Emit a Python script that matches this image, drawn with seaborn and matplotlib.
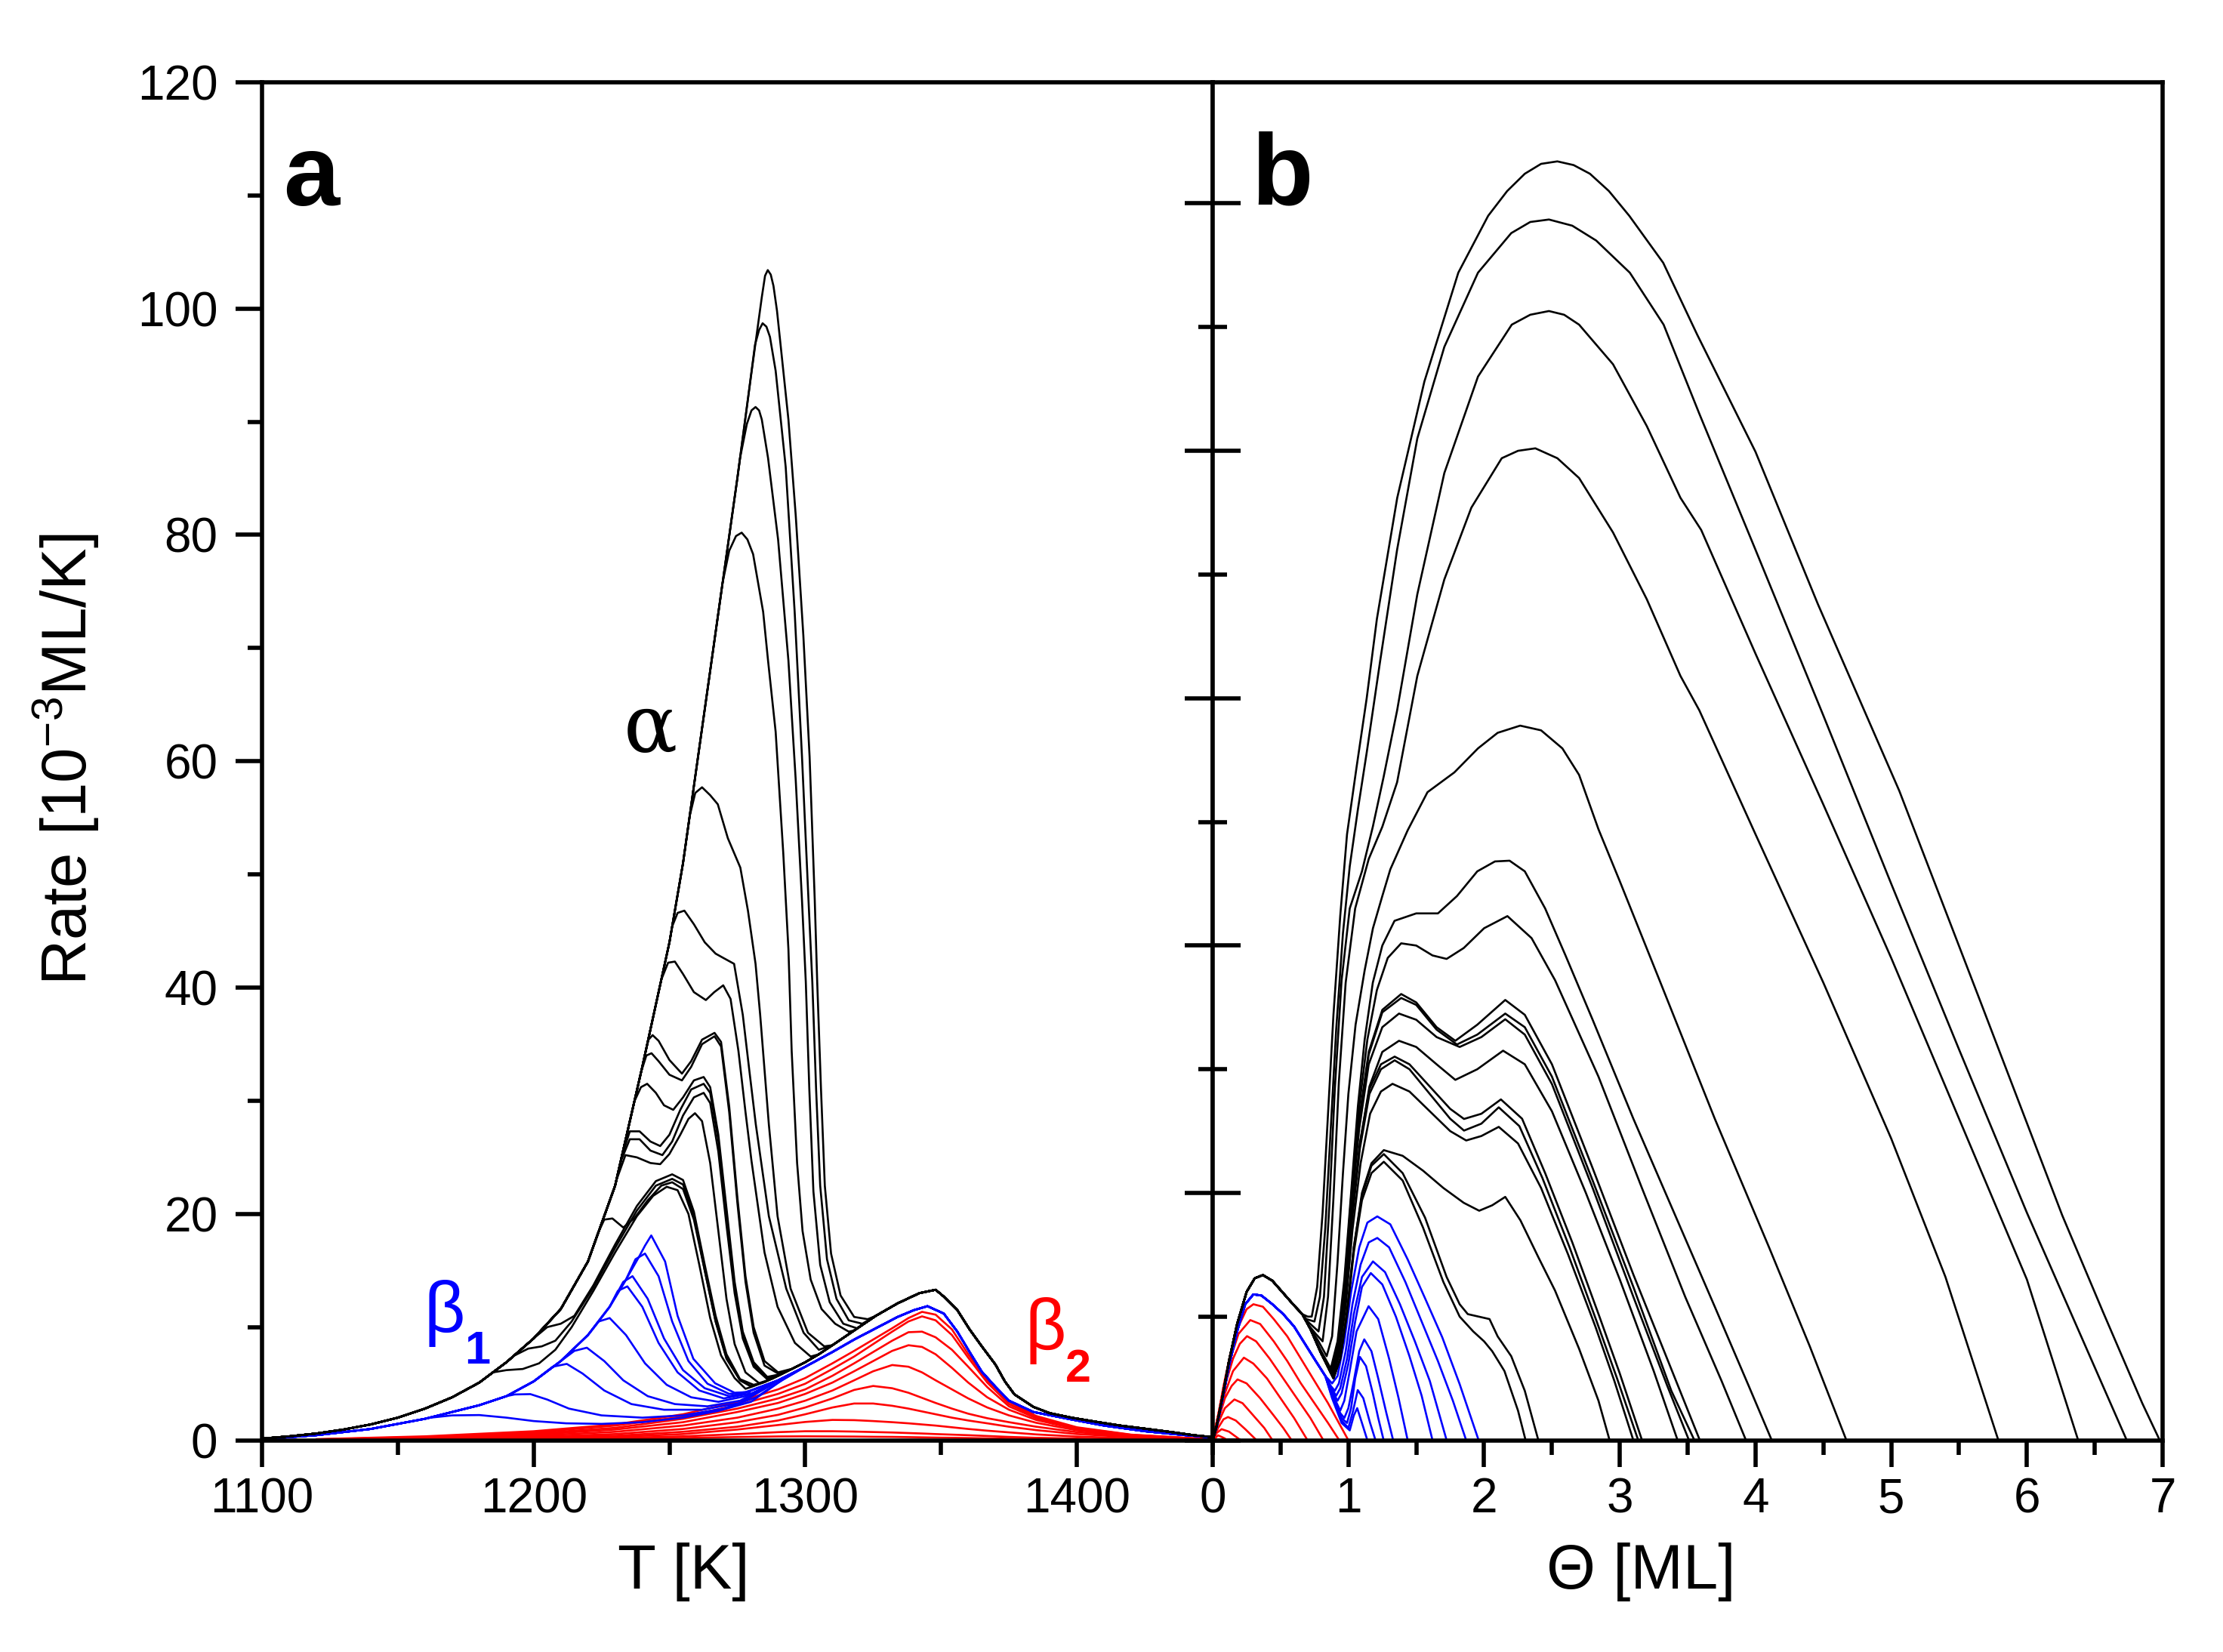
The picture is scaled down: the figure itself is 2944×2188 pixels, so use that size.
import matplotlib
matplotlib.use("Agg")
import matplotlib.pyplot as plt
from matplotlib.ticker import MultipleLocator, NullFormatter
import numpy as np
import pandas as pd
import seaborn as sns

# ---------------- Panel a : rate vs temperature ----------------
# common leading edge of the alpha (multilayer) peak
A_LEAD_T = [1100, 1110, 1120, 1130, 1140, 1150, 1160, 1170, 1180, 1190, 1200, 1210, 1220, 1230,
            1240, 1250, 1255, 1260, 1265, 1270, 1275, 1280, 1284]
A_LEAD_R = [0.15, 0.35, 0.6, 0.95, 1.4, 2.0, 2.8, 3.8, 5.1, 6.9, 9.0, 11.6, 15.8, 22.5,
            33.0, 44.0, 51.0, 59.5, 68.0, 76.5, 85.0, 94.0, 101.0]
# common beta2 trace of the black curves
A_B2_T = [1275, 1280, 1285, 1290, 1295, 1300, 1305, 1310, 1318, 1326, 1334, 1342, 1348, 1351,
          1356, 1360.5, 1365, 1370, 1373.5, 1377, 1384, 1390, 1398, 1408, 1416, 1426, 1435, 1443, 1450]
A_B2_R = [4.3, 4.7, 5.15, 5.7, 6.3, 6.9, 7.6, 8.4, 9.7, 11.0, 12.1, 13.0, 13.3, 12.7,
          11.5, 9.8, 8.3, 6.7, 5.2, 4.06, 2.95, 2.4, 2.0, 1.6, 1.3, 1.0, 0.72, 0.45, 0.28]
# blue (beta1) leading edge and blue beta2 trace
A_BL_LEAD_T = [1100, 1120, 1140, 1160, 1170, 1180, 1190, 1200, 1210, 1220, 1228, 1234, 1239, 1243]
A_BL_LEAD_R = [0.1, 0.45, 1.0, 1.9, 2.5, 3.1, 3.9, 5.2, 7.0, 9.3, 11.8, 14.2, 16.3, 18.0]
A_BL_B2_T = [1270, 1280, 1290, 1300, 1310, 1318, 1326, 1334, 1340, 1345, 1351, 1356, 1360.5,
             1365, 1370, 1375, 1384, 1398, 1410, 1425, 1440, 1450]
A_BL_B2_R = [3.7, 4.4, 5.3, 6.5, 7.8, 8.9, 9.9, 10.9, 11.5, 11.85, 11.2, 9.6, 7.8,
             6.06, 4.73, 3.5, 2.5, 1.84, 1.3, 0.8, 0.45, 0.25]

# black curves: own segment (T list, rate list)
K1 = ([1185, 1190, 1196, 1202, 1208, 1214, 1222, 1230, 1238, 1244, 1249, 1253, 1257, 1261, 1265, 1269, 1274, 1278],
      [6.0, 6.2, 6.3, 6.8, 8.0, 10.0, 13.2, 16.6, 19.8, 21.6, 22.4, 22.1, 20.0, 15.5, 10.8, 7.5, 5.5, 4.55])
K2 = ([1193, 1198, 1203, 1208, 1214, 1222, 1230, 1238, 1245, 1251, 1255, 1259, 1263, 1267, 1271, 1276, 1280],
      [7.5, 8.1, 8.3, 8.8, 10.5, 13.5, 17.0, 20.3, 22.5, 23.1, 22.6, 19.8, 15.0, 10.5, 7.3, 5.3, 4.8])
K3 = ([1201, 1205, 1210, 1215, 1222, 1230, 1238, 1245, 1251, 1255, 1259, 1263, 1267, 1271, 1276, 1281],
      [9.2, 10.0, 10.3, 11.0, 13.7, 17.3, 20.7, 22.9, 23.5, 23.0, 20.2, 15.5, 11.0, 7.6, 5.4, 4.9])
K4 = ([1223.5, 1226, 1229, 1233, 1237, 1242, 1247, 1251, 1255, 1259, 1263, 1267, 1271, 1276, 1280],
      [18.2, 19.5, 19.6, 18.8, 19.6, 21.2, 22.5, 22.8, 22.2, 19.5, 15.0, 10.5, 7.2, 5.3, 4.75])
K5 = ([1230.5, 1233.8, 1238, 1243, 1246.6, 1250, 1254, 1257, 1259.4, 1262, 1265, 1268, 1271, 1274, 1278, 1283, 1288],
      [23.0, 25.2, 25.0, 24.5, 24.4, 25.3, 27.0, 28.4, 28.9, 28.2, 24.5, 18.5, 12.5, 8.5, 6.0, 5.05, 5.45])
K6 = ([1232, 1235.4, 1239, 1243, 1247.4, 1251, 1255, 1259, 1262.6, 1265, 1268, 1271, 1274, 1277, 1281, 1286, 1290],
      [24.6, 26.6, 26.6, 25.6, 25.2, 26.4, 28.7, 30.3, 30.7, 29.8, 25.5, 19.0, 13.0, 9.0, 6.5, 5.4, 5.7])
K7 = ([1232.5, 1235.4, 1239, 1243, 1246.6, 1250, 1254, 1258, 1262.6, 1265, 1268, 1271, 1274, 1277, 1281, 1286, 1290],
      [25.1, 27.3, 27.3, 26.4, 26.0, 27.0, 29.2, 31.0, 31.5, 30.7, 26.5, 20.0, 13.5, 9.3, 6.7, 5.5, 5.75])
K8 = ([1237, 1239.5, 1241.8, 1245, 1248, 1251.4, 1255, 1259, 1262.6, 1265, 1268, 1271, 1274, 1277, 1281, 1286, 1290],
      [29.9, 31.2, 31.5, 30.7, 29.6, 29.2, 30.3, 31.8, 32.1, 31.2, 27.0, 20.5, 14.0, 9.6, 6.9, 5.6, 5.8])
K9 = ([1239.5, 1241.5, 1243.4, 1246, 1250, 1254.6, 1258, 1262, 1266.6, 1269, 1272, 1275, 1278, 1281, 1285, 1290, 1294],
      [32.5, 34.0, 34.2, 33.5, 32.3, 31.8, 33.0, 35.0, 35.7, 34.8, 29.0, 21.0, 14.0, 9.5, 6.6, 5.9, 6.2])
K10 = ([1241, 1242.3, 1243.8, 1246, 1250, 1254.6, 1258, 1262, 1266.6, 1269, 1272, 1275, 1278, 1281, 1285, 1290, 1294],
       [34.1, 35.4, 35.8, 35.3, 33.6, 32.4, 33.5, 35.4, 36.0, 35.2, 29.5, 21.5, 14.5, 10.0, 7.0, 6.0, 6.25])
K11 = ([1247, 1249.5, 1252, 1255, 1259, 1263.4, 1266.5, 1269.8, 1272.5, 1275.4, 1278, 1280.2, 1285, 1289.8, 1296.2, 1302],
       [40.7, 42.2, 42.3, 41.2, 39.6, 38.9, 39.6, 40.2, 39.0, 34.4, 29.0, 24.7, 16.6, 11.8, 8.6, 7.4])
K12 = ([1251, 1253, 1255.5, 1259, 1263, 1267, 1270, 1273.8, 1277, 1279.5, 1281.8, 1286.6, 1293, 1299.4, 1305],
       [45.4, 46.6, 46.8, 45.6, 44.0, 43.0, 42.6, 42.1, 37.6, 32.5, 27.9, 19.8, 13.4, 9.5, 8.0])
K13 = ([1257.5, 1259.5, 1262, 1265, 1267.8, 1271.5, 1276.1, 1278.9, 1281.7, 1283.4, 1286.6, 1289.8, 1294.6, 1301, 1307],
       [55.2, 57.2, 57.7, 57.0, 56.2, 53.2, 50.6, 46.8, 42.1, 37.6, 27.9, 19.8, 13.4, 9.5, 8.3])
K14 = ([1269.5, 1272, 1274.5, 1276.6, 1278.7, 1280.8, 1284.5, 1286.3, 1289.1, 1291.9, 1293.8, 1295, 1297, 1299, 1302,
        1306, 1311, 1316],
       [75.7, 78.6, 79.9, 80.2, 79.6, 78.3, 73.2, 68.9, 62.6, 51.9, 43.4, 34.4, 24.5, 18.5, 14.2, 11.6, 10.3, 9.6])
K15 = ([1276, 1278.5, 1280.2, 1281.7, 1283, 1284, 1286.3, 1290, 1293.8, 1296.5, 1298.8, 1300.2, 1301.5, 1303, 1305.5,
        1309, 1314, 1319],
       [86.8, 89.8, 91.0, 91.3, 91.0, 90.2, 86.8, 79.6, 68.9, 58.3, 47.7, 40.5, 31.0, 22.0, 15.5, 12.2, 10.3, 9.9])
K16 = ([1279, 1281.5, 1283, 1284.3, 1285.7, 1287, 1289.1, 1292.8, 1296.1, 1298.8, 1301.2, 1302.6, 1304, 1305.5, 1308,
        1311.5, 1316, 1321],
       [92.2, 96.8, 98.1, 98.7, 98.4, 97.5, 94.5, 86.0, 73.2, 60.4, 47.7, 40.5, 31.0, 22.5, 16.0, 12.5, 10.6, 10.3])
K17 = ([1285.2, 1286.2, 1287.3, 1288.3, 1289.6, 1291, 1293.8, 1296.5, 1299.3, 1301.6, 1303.5, 1304.4, 1305.8, 1307.2,
        1309.5, 1313, 1318, 1323],
       [102.9, 103.4, 103.0, 102.0, 99.8, 96.6, 90.2, 81.7, 71.1, 60.4, 47.7, 40.5, 31.0, 22.5, 16.5, 12.8, 10.9, 10.7])
A_BLACK = [K1, K2, K3, K4, K5, K6, K7, K8, K9, K10, K11, K12, K13, K14, K15, K16, K17]

# blue curves: own segment
BA1 = ([1162, 1170, 1180, 1190, 1200, 1212, 1225, 1240, 1255, 1268, 1280, 1292],
       [2.0, 2.2, 2.23, 2.0, 1.7, 1.5, 1.45, 1.6, 2.0, 2.6, 3.4, 5.4])
BA2 = ([1193, 1198.8, 1205, 1213, 1225, 1240, 1255, 1270, 1282, 1290],
       [4.05, 4.08, 3.6, 2.8, 2.2, 2.0, 2.2, 2.8, 3.8, 5.1])
BA3 = ([1207, 1212.2, 1218, 1226, 1236, 1248, 1262, 1276, 1287],
       [6.5, 6.75, 5.9, 4.4, 3.2, 2.7, 2.7, 3.3, 4.8])
BA4 = ([1215, 1219.6, 1226, 1233, 1242, 1252, 1264, 1276, 1286],
       [7.9, 8.18, 7.0, 5.3, 3.9, 3.2, 3.0, 3.5, 4.7])
BA5 = ([1224, 1228, 1234, 1241, 1249, 1258, 1268, 1278, 1286],
       [10.5, 10.8, 9.3, 6.8, 4.9, 3.8, 3.4, 3.9, 4.8])
BA6 = ([1231, 1234.5, 1240, 1246, 1253, 1261, 1270, 1279],
       [13.2, 13.6, 11.8, 8.6, 6.0, 4.4, 3.7, 4.1])
BA7 = ([1233, 1236.4, 1242, 1248, 1255, 1263, 1272, 1278],
       [14.0, 14.5, 12.5, 9.0, 6.2, 4.6, 3.9, 4.2])
BA8 = ([1237.5, 1241, 1246, 1251, 1257, 1264, 1272, 1278],
       [16.0, 16.5, 14.5, 10.5, 7.0, 5.0, 4.1, 4.25])
BA9 = ([1241, 1243.3, 1248.4, 1253, 1258.8, 1266.8, 1274, 1278],
       [17.2, 18.1, 15.8, 11.0, 7.2, 5.04, 4.2, 4.25])
A_BLUE = [BA1, BA2, BA3, BA4, BA5, BA6, BA7, BA8, BA9]

# red curves (beta2 only), common temperature grid
A_RED_T = [1120, 1160, 1200, 1230, 1255, 1275, 1290, 1300, 1310, 1318, 1325, 1332, 1338, 1343,
           1348, 1354, 1360, 1367, 1375, 1385, 1400, 1420, 1450]
RA1 = [0.1, 0.35, 0.8, 1.4, 2.3, 3.4, 4.5, 5.5, 6.8, 7.9, 8.9, 9.9, 10.8, 11.35, 11.1, 9.8, 7.6, 5.3, 3.4, 2.15, 1.15, 0.5, 0.08]
RA2 = [0.08, 0.3, 0.7, 1.3, 2.1, 3.1, 4.1, 5.0, 6.3, 7.4, 8.5, 9.6, 10.5, 10.95, 10.6, 9.3, 7.3, 5.1, 3.2, 2.05, 1.1, 0.48, 0.07]
RA3 = [0.07, 0.25, 0.6, 1.1, 1.9, 2.8, 3.7, 4.5, 5.7, 6.8, 7.8, 8.8, 9.55, 9.6, 9.1, 8.0, 6.5, 4.7, 3.0, 1.95, 1.05, 0.45, 0.07]
RA4 = [0.05, 0.2, 0.5, 0.95, 1.6, 2.5, 3.3, 4.1, 5.1, 6.1, 7.0, 7.9, 8.4, 8.25, 7.6, 6.4, 5.1, 3.8, 2.7, 1.8, 0.98, 0.42, 0.06]
RA5 = [0.04, 0.15, 0.4, 0.75, 1.3, 2.0, 2.8, 3.5, 4.4, 5.3, 6.1, 6.65, 6.5, 6.0, 5.3, 4.5, 3.7, 2.9, 2.2, 1.55, 0.88, 0.38, 0.05]
RA6 = [0.03, 0.1, 0.3, 0.55, 1.0, 1.6, 2.25, 2.9, 3.7, 4.45, 4.8, 4.6, 4.2, 3.75, 3.3, 2.8, 2.35, 1.95, 1.6, 1.2, 0.72, 0.35, 0.05]
RA7 = [0.02, 0.08, 0.22, 0.4, 0.75, 1.2, 1.75, 2.3, 2.9, 3.25, 3.25, 3.05, 2.8, 2.55, 2.3, 2.0, 1.75, 1.5, 1.2, 0.9, 0.55, 0.28, 0.04]
RA8 = [0.01, 0.05, 0.15, 0.3, 0.55, 0.95, 1.35, 1.62, 1.8, 1.78, 1.7, 1.6, 1.5, 1.4, 1.3, 1.15, 1.0, 0.85, 0.7, 0.52, 0.33, 0.17, 0.03]
RA9 = [0.01, 0.03, 0.1, 0.2, 0.35, 0.55, 0.72, 0.8, 0.8, 0.77, 0.73, 0.69, 0.64, 0.6, 0.55, 0.5, 0.45, 0.38, 0.3, 0.22, 0.15, 0.08, 0.02]
RA10 = [0.0, 0.02, 0.06, 0.12, 0.2, 0.29, 0.34, 0.35, 0.34, 0.33, 0.31, 0.3, 0.28, 0.26, 0.24, 0.22, 0.2, 0.17, 0.14, 0.1, 0.07, 0.04, 0.01]
A_RED = [RA1, RA2, RA3, RA4, RA5, RA6, RA7, RA8, RA9, RA10]

# ---------------- Panel b : rate vs coverage ----------------
B_BK_HUMP_X = [0.0, 0.03, 0.07, 0.12, 0.18, 0.25, 0.31, 0.37, 0.44, 0.52, 0.60, 0.66]
B_BK_HUMP_Y = [0.0, 0.06, 0.17, 0.32, 0.47, 0.60, 0.655, 0.668, 0.645, 0.595, 0.545, 0.51]
B_BL_HUMP_X = [0.0, 0.03, 0.07, 0.12, 0.18, 0.24, 0.30, 0.36, 0.44, 0.52, 0.60, 0.68, 0.76, 0.83]
B_BL_HUMP_Y = [0.0, 0.055, 0.16, 0.30, 0.44, 0.55, 0.59, 0.585, 0.55, 0.51, 0.46, 0.39, 0.32, 0.26]

P1 = ([0.70, 0.73, 0.77, 0.81, 0.85, 0.89, 0.94, 0.99, 1.06, 1.135, 1.21, 1.36, 1.56, 1.81, 2.03, 2.17, 2.3, 2.42,
       2.54, 2.66, 2.78, 2.92, 3.07, 3.32, 3.57, 4.0, 4.46, 5.06, 5.66, 6.26, 6.56, 6.85, 6.979],
      [0.50, 0.50, 0.62, 0.92, 1.32, 1.72, 2.12, 2.45, 2.72, 3.0, 3.32, 3.81, 4.28, 4.72, 4.95, 5.05, 5.12, 5.16,
       5.17, 5.155, 5.12, 5.05, 4.95, 4.76, 4.47, 3.996, 3.38, 2.625, 1.77, 0.91, 0.52, 0.15, 0.0])
P2 = ([0.69, 0.75, 0.79, 0.83, 0.87, 0.91, 0.96, 1.01, 1.07, 1.135, 1.234, 1.359, 1.508, 1.707, 1.955, 2.2,
       2.34, 2.478, 2.65, 2.826, 3.074, 3.323, 3.586, 4.0, 4.5, 5.0, 5.5, 6.0, 6.4, 6.736],
      [0.49, 0.48, 0.58, 0.86, 1.26, 1.66, 2.05, 2.32, 2.55, 2.78, 3.15, 3.6, 4.05, 4.42, 4.72, 4.88,
       4.925, 4.935, 4.91, 4.85, 4.72, 4.51, 4.15, 3.6, 2.93, 2.25, 1.58, 0.92, 0.42, 0.0])
P3 = ([0.70, 0.78, 0.82, 0.86, 0.90, 0.95, 1.01, 1.1, 1.18, 1.259, 1.359, 1.508, 1.707, 1.955, 2.204, 2.34, 2.478,
       2.59, 2.70, 2.95, 3.199, 3.447, 3.6, 4.0, 4.5, 5.0, 5.5, 6.0, 6.378],
      [0.48, 0.44, 0.58, 0.95, 1.42, 1.86, 2.15, 2.3, 2.48, 2.68, 2.95, 3.42, 3.91, 4.30, 4.51, 4.55, 4.565,
       4.55, 4.51, 4.35, 4.10, 3.81, 3.68, 3.18, 2.57, 1.95, 1.3, 0.65, 0.0])
P4 = ([0.70, 0.76, 0.81, 0.85, 0.89, 0.93, 0.98, 1.05, 1.15, 1.25, 1.359, 1.508, 1.707, 1.906, 2.13, 2.25, 2.378,
       2.54, 2.70, 2.95, 3.199, 3.447, 3.586, 4.0, 4.5, 5.0, 5.4, 5.79],
      [0.47, 0.43, 0.40, 0.58, 0.98, 1.45, 1.85, 2.15, 2.35, 2.48, 2.66, 3.09, 3.48, 3.77, 3.97, 4.0, 4.01,
       3.97, 3.89, 3.67, 3.40, 3.09, 2.951, 2.45, 1.85, 1.22, 0.66, 0.0])
P5 = ([0.70, 0.78, 0.84, 0.88, 0.92, 0.96, 1.0, 1.053, 1.12, 1.181, 1.25, 1.309, 1.437, 1.583, 1.781, 1.955,
       2.1, 2.266, 2.42, 2.577, 2.7, 2.843, 3.0, 3.3, 3.7, 4.1, 4.4, 4.67],
      [0.47, 0.40, 0.34, 0.42, 0.72, 1.08, 1.4, 1.68, 1.9, 2.07, 2.2, 2.308, 2.466, 2.62, 2.70, 2.797,
       2.86, 2.889, 2.87, 2.797, 2.69, 2.47, 2.26, 1.85, 1.3, 0.78, 0.38, 0.0])
Q1 = ([0.72, 0.80, 0.87, 0.92, 0.97, 1.02, 1.07, 1.12, 1.18, 1.25, 1.34, 1.5, 1.66, 1.8, 1.95, 2.08, 2.188,
       2.3, 2.45, 2.6, 2.8, 3.1, 3.4, 3.7, 3.95, 4.12],
      [0.45, 0.36, 0.29, 0.40, 0.65, 1.0, 1.35, 1.62, 1.85, 2.0, 2.1, 2.13, 2.13, 2.2, 2.3, 2.34, 2.343,
       2.3, 2.15, 1.96, 1.7, 1.3, 0.92, 0.54, 0.22, 0.0])
Q2 = ([0.72, 0.80, 0.87, 0.92, 0.97, 1.02, 1.08, 1.14, 1.21, 1.29, 1.389, 1.5, 1.62, 1.724, 1.85, 2.0, 2.172,
       2.35, 2.523, 2.843, 3.163, 3.482, 3.75, 3.93],
      [0.45, 0.355, 0.285, 0.38, 0.62, 0.98, 1.35, 1.62, 1.82, 1.95, 2.009, 2.0, 1.96, 1.946, 1.99, 2.07, 2.119,
       2.03, 1.86, 1.47, 1.02, 0.58, 0.24, 0.0])
Q3 = ([0.72, 0.80, 0.875, 0.92, 0.97, 1.02, 1.08, 1.15, 1.25, 1.389, 1.5, 1.65, 1.788, 1.95, 2.156, 2.3, 2.5,
       2.8, 3.1, 3.4, 3.59],
      [0.45, 0.35, 0.28, 0.37, 0.6, 0.95, 1.3, 1.57, 1.74, 1.804, 1.77, 1.67, 1.615, 1.68, 1.78, 1.72, 1.52,
       1.1, 0.67, 0.26, 0.0])
Q4 = ([0.72, 0.80, 0.875, 0.92, 0.97, 1.02, 1.08, 1.15, 1.25, 1.389, 1.5, 1.65, 1.80, 1.95, 2.156, 2.3, 2.5,
       2.8, 3.1, 3.38, 3.55],
      [0.45, 0.35, 0.28, 0.37, 0.6, 0.95, 1.29, 1.56, 1.73, 1.788, 1.76, 1.66, 1.60, 1.64, 1.725, 1.67, 1.47,
       1.05, 0.62, 0.2, 0.0])
Q5 = ([0.72, 0.80, 0.875, 0.92, 0.97, 1.02, 1.08, 1.15, 1.25, 1.373, 1.5, 1.65, 1.82, 1.98, 2.156, 2.3, 2.5,
       2.8, 3.1, 3.35, 3.51],
      [0.45, 0.35, 0.28, 0.37, 0.59, 0.93, 1.26, 1.52, 1.67, 1.725, 1.7, 1.63, 1.59, 1.63, 1.702, 1.64, 1.44,
       1.02, 0.58, 0.22, 0.0])
Q6 = ([0.72, 0.80, 0.88, 0.925, 0.975, 1.025, 1.085, 1.155, 1.25, 1.373, 1.5, 1.65, 1.788, 1.95, 2.14, 2.3,
       2.5, 2.75, 3.0, 3.25, 3.426],
      [0.45, 0.35, 0.27, 0.36, 0.57, 0.9, 1.2, 1.43, 1.57, 1.615, 1.59, 1.52, 1.457, 1.5, 1.575, 1.52,
       1.33, 1.0, 0.65, 0.28, 0.0])
Q7 = ([0.72, 0.80, 0.88, 0.925, 0.975, 1.025, 1.085, 1.155, 1.24, 1.341, 1.45, 1.6, 1.75, 1.852, 1.98, 2.124,
       2.28, 2.45, 2.65, 2.85, 3.0, 3.164],
      [0.45, 0.35, 0.27, 0.36, 0.57, 0.9, 1.2, 1.42, 1.52, 1.551, 1.52, 1.43, 1.34, 1.299, 1.32, 1.378,
       1.3, 1.08, 0.8, 0.5, 0.27, 0.0])
Q8 = ([0.72, 0.80, 0.88, 0.925, 0.975, 1.025, 1.085, 1.155, 1.24, 1.341, 1.45, 1.6, 1.75, 1.852, 1.98, 2.108,
       2.26, 2.43, 2.63, 2.83, 2.98, 3.136],
      [0.45, 0.35, 0.265, 0.35, 0.56, 0.88, 1.18, 1.4, 1.5, 1.536, 1.5, 1.4, 1.3, 1.252, 1.28, 1.346,
       1.27, 1.06, 0.78, 0.48, 0.25, 0.0])
Q9 = ([0.72, 0.80, 0.885, 0.93, 0.98, 1.03, 1.09, 1.16, 1.24, 1.325, 1.45, 1.6, 1.75, 1.868, 1.98, 2.108,
       2.25, 2.42, 2.62, 2.82, 2.96, 3.10],
      [0.45, 0.35, 0.26, 0.34, 0.54, 0.85, 1.12, 1.32, 1.41, 1.441, 1.41, 1.33, 1.25, 1.212, 1.23, 1.267,
       1.2, 1.02, 0.75, 0.46, 0.24, 0.0])
Q10 = ([0.72, 0.80, 0.89, 0.94, 0.99, 1.04, 1.1, 1.17, 1.261, 1.4, 1.55, 1.7, 1.85, 1.964, 2.06, 2.156,
        2.268, 2.4, 2.523, 2.7, 2.843, 2.925],
       [0.45, 0.35, 0.25, 0.33, 0.52, 0.78, 1.0, 1.12, 1.173, 1.15, 1.09, 1.02, 0.96, 0.928, 0.95, 0.984,
        0.889, 0.74, 0.605, 0.37, 0.16, 0.0])
Q11 = ([0.72, 0.80, 0.89, 0.94, 0.99, 1.04, 1.1, 1.17, 1.261, 1.4, 1.565, 1.724, 1.82, 1.88, 1.96, 2.04,
        2.1, 2.2, 2.3, 2.40],
       [0.45, 0.35, 0.25, 0.33, 0.52, 0.78, 0.99, 1.11, 1.157, 1.08, 0.9, 0.66, 0.55, 0.51, 0.50, 0.49,
        0.42, 0.34, 0.2, 0.0])
Q12 = ([0.72, 0.80, 0.89, 0.94, 0.99, 1.04, 1.1, 1.17, 1.261, 1.4, 1.55, 1.7, 1.82, 1.92, 2.0, 2.06,
        2.15, 2.25, 2.306],
       [0.45, 0.35, 0.25, 0.33, 0.51, 0.76, 0.97, 1.08, 1.126, 1.05, 0.86, 0.64, 0.5, 0.44, 0.4, 0.36,
        0.28, 0.12, 0.0])
B_BLACK = [P1, P2, P3, P4, P5, Q1, Q2, Q3, Q4, Q5, Q6, Q7, Q8, Q9, Q10, Q11, Q12]

BB1 = ([0.88, 0.92, 0.97, 1.02, 1.08, 1.14, 1.213, 1.309, 1.437, 1.565, 1.692, 1.82, 1.96],
       [0.23, 0.26, 0.4, 0.6, 0.78, 0.88, 0.905, 0.873, 0.731, 0.574, 0.416, 0.227, 0.0])
BB2 = ([0.87, 0.90, 0.93, 0.98, 1.03, 1.09, 1.15, 1.213, 1.3, 1.42, 1.54, 1.66, 1.77, 1.868],
       [0.22, 0.2, 0.23, 0.36, 0.55, 0.71, 0.8, 0.818, 0.78, 0.64, 0.48, 0.32, 0.16, 0.0])
BB3 = ([0.87, 0.91, 0.94, 0.99, 1.04, 1.1, 1.181, 1.27, 1.38, 1.49, 1.6, 1.724],
       [0.215, 0.18, 0.21, 0.33, 0.51, 0.66, 0.723, 0.68, 0.55, 0.4, 0.24, 0.0])
BB4 = ([0.87, 0.92, 0.95, 1.0, 1.05, 1.1, 1.165, 1.25, 1.35, 1.45, 1.54, 1.62],
       [0.21, 0.16, 0.19, 0.31, 0.48, 0.62, 0.676, 0.63, 0.5, 0.34, 0.18, 0.0])
BB5 = ([0.88, 0.94, 0.97, 1.01, 1.06, 1.149, 1.22, 1.3, 1.37, 1.437],
       [0.19, 0.12, 0.16, 0.28, 0.44, 0.542, 0.49, 0.33, 0.17, 0.0])
BB6 = ([0.88, 0.94, 0.97, 1.0, 1.04, 1.08, 1.117, 1.17, 1.22, 1.28, 1.33],
       [0.185, 0.11, 0.09, 0.13, 0.24, 0.36, 0.408, 0.36, 0.25, 0.11, 0.0])
BB7 = ([0.88, 0.95, 0.99, 1.02, 1.05, 1.085, 1.13, 1.18, 1.22, 1.26],
       [0.18, 0.09, 0.07, 0.13, 0.25, 0.337, 0.3, 0.19, 0.09, 0.0])
BB8 = ([0.88, 0.95, 1.0, 1.035, 1.069, 1.11, 1.16, 1.2],
       [0.175, 0.08, 0.05, 0.12, 0.203, 0.17, 0.07, 0.0])
BB9 = ([0.88, 0.95, 1.01, 1.04, 1.065, 1.1, 1.14],
       [0.17, 0.07, 0.04, 0.1, 0.13, 0.07, 0.0])
B_BLUE = [BB1, BB2, BB3, BB4, BB5, BB6, BB7, BB8, BB9]

RB1 = ([0.0, 0.04, 0.08, 0.13, 0.19, 0.25, 0.30, 0.37, 0.45, 0.55, 0.65, 0.75, 0.85, 0.93, 1.0],
       [0.0, 0.1, 0.22, 0.35, 0.46, 0.53, 0.55, 0.54, 0.49, 0.42, 0.33, 0.24, 0.15, 0.07, 0.0])
RB2 = ([0.0, 0.04, 0.08, 0.13, 0.19, 0.277, 0.35, 0.45, 0.55, 0.65, 0.75, 0.85, 0.933],
       [0.0, 0.1, 0.21, 0.33, 0.43, 0.486, 0.47, 0.40, 0.32, 0.23, 0.15, 0.07, 0.0])
RB3 = ([0.0, 0.04, 0.09, 0.15, 0.2, 0.253, 0.32, 0.42, 0.52, 0.62, 0.72, 0.816],
       [0.0, 0.1, 0.22, 0.33, 0.39, 0.421, 0.40, 0.33, 0.25, 0.17, 0.09, 0.0])
RB4 = ([0.0, 0.04, 0.09, 0.15, 0.23, 0.3, 0.4, 0.5, 0.6, 0.699],
       [0.0, 0.09, 0.19, 0.28, 0.334, 0.31, 0.25, 0.17, 0.09, 0.0])
RB5 = ([0.0, 0.04, 0.09, 0.14, 0.183, 0.25, 0.35, 0.45, 0.52, 0.582],
       [0.0, 0.08, 0.17, 0.22, 0.246, 0.23, 0.17, 0.1, 0.05, 0.0])
RB6 = ([0.0, 0.04, 0.09, 0.16, 0.22, 0.3, 0.38, 0.441],
       [0.0, 0.07, 0.13, 0.165, 0.15, 0.1, 0.05, 0.0])
RB7 = ([0.0, 0.04, 0.08, 0.113, 0.17, 0.24, 0.324],
       [0.0, 0.05, 0.085, 0.094, 0.08, 0.045, 0.0])
RB8 = ([0.0, 0.03, 0.066, 0.12, 0.17, 0.207],
       [0.0, 0.03, 0.045, 0.035, 0.015, 0.0])
RB9 = ([0.0, 0.04, 0.08, 0.113],
       [0.0, 0.02, 0.01, 0.0])
B_RED = [RB1, RB2, RB3, RB4, RB5, RB6, RB7, RB8, RB9]

A_XTICKS = [1100, 1200, 1300, 1400]
A_YTICKS = [0, 20, 40, 60, 80, 100, 120]
B_XTICKS = [0, 1, 2, 3, 4, 5, 6, 7]


def compose(lead_x, lead_y, own, tail_x=None, tail_y=None):
    ox, oy = own
    xs = [x for x in lead_x if x < ox[0]]
    ys = [y for x, y in zip(lead_x, lead_y) if x < ox[0]]
    xs += list(ox)
    ys += list(oy)
    if tail_x is not None:
        xs += [x for x in tail_x if x > ox[-1]]
        ys += [y for x, y in zip(tail_x, tail_y) if x > ox[-1]]
    return xs, ys


def frame(curves, group):
    rows = []
    for i, (xs, ys) in enumerate(curves):
        for j, (x, y) in enumerate(zip(xs, ys)):
            rows.append((f"{group}{i}", group, j, x, y))
    return pd.DataFrame(rows, columns=["curve", "group", "order", "x", "y"])


a_black = [compose(A_LEAD_T, A_LEAD_R, c, A_B2_T, A_B2_R) for c in A_BLACK]
a_blue = [compose(A_BL_LEAD_T, A_BL_LEAD_R, c, A_BL_B2_T, A_BL_B2_R) for c in A_BLUE]
a_red = [(A_RED_T, r) for r in A_RED]
b_black = [compose(B_BK_HUMP_X, B_BK_HUMP_Y, c) for c in B_BLACK]
b_blue = [compose(B_BL_HUMP_X, B_BL_HUMP_Y, c) for c in B_BLUE]
b_red = list(B_RED)

sns.set_theme(style="white")
plt.rcParams["font.family"] = ["Liberation Sans", "DejaVu Sans"]
plt.rcParams["mathtext.fontset"] = "custom"
plt.rcParams["mathtext.rm"] = "Liberation Sans"
plt.rcParams["mathtext.it"] = "Liberation Sans:italic"
plt.rcParams["mathtext.bf"] = "Liberation Sans:bold"
plt.rcParams["lines.solid_joinstyle"] = "round"

W, H = 2944, 2188
fig = plt.figure(figsize=(W / 200, H / 200), dpi=200)
fig.patch.set_facecolor("white")
ax_a = fig.add_axes([347 / W, 1 - 1907.6 / H, (1606 - 347) / W, (1907.6 - 108.9) / H])
ax_b = fig.add_axes([1606 / W, 1 - 1907.6 / H, (2864 - 1606) / W, (1907.6 - 108.9) / H])

LW = 0.95
COLORS = {"red": "#ff0000", "blue": "#0000ff", "black": "#000000"}
for ax, sets in ((ax_a, (("red", a_red), ("blue", a_blue), ("black", a_black))),
                 (ax_b, (("red", b_red), ("blue", b_blue), ("black", b_black)))):
    for grp, curves in sets:
        df = frame(curves, grp)
        sns.lineplot(data=df, x="x", y="y", units="curve", estimator=None, sort=False,
                     color=COLORS[grp], linewidth=LW, legend=False, ax=ax)

# panel a axes
ax_a.set_xlim(1100, 1450)
ax_a.set_ylim(0, 120)
ax_a.set_xticks(A_XTICKS)
ax_a.set_yticks(A_YTICKS)
ax_a.xaxis.set_minor_locator(MultipleLocator(50))
ax_a.yaxis.set_minor_locator(MultipleLocator(10))
ax_a.tick_params(axis="both", which="major", direction="out", length=12.6, width=2.0,
                 labelsize=23, bottom=True, left=True, top=False, right=False, color="black")
ax_a.tick_params(axis="both", which="minor", direction="out", length=6.8, width=2.0,
                 bottom=True, left=True, top=False, right=False, color="black")
ax_a.tick_params(axis="x", which="major", pad=5)
ax_a.tick_params(axis="y", which="major", pad=8.5)
ax_a.set_xlabel("")
ax_a.set_ylabel("")

# panel b axes
ax_b.set_xlim(0, 7)
ax_b.set_ylim(0, 5.49)
ax_b.set_xticks(B_XTICKS)
ax_b.xaxis.set_minor_locator(MultipleLocator(0.5))
ax_b.yaxis.set_major_locator(MultipleLocator(1))
ax_b.yaxis.set_minor_locator(MultipleLocator(0.5))
ax_b.yaxis.set_major_formatter(NullFormatter())
ax_b.tick_params(axis="x", which="major", direction="out", length=12.6, width=2.0, labelsize=23,
                 bottom=True, top=False, pad=5, color="black")
ax_b.tick_params(axis="x", which="minor", direction="out", length=6.8, width=2.0,
                 bottom=True, top=False, color="black")
ax_b.tick_params(axis="y", which="major", direction="inout", length=26.6, width=2.0,
                 left=True, right=False, labelleft=False, color="black")
ax_b.tick_params(axis="y", which="minor", direction="inout", length=14.0, width=2.0,
                 left=True, right=False, color="black")
ax_b.set_xlabel("")
ax_b.set_ylabel("")

for ax in (ax_a, ax_b):
    for s in ax.spines.values():
        s.set_visible(True)
        s.set_linewidth(2.0)
        s.set_color("black")
    ax.set_facecolor("white")
    for lab in ax.get_xticklabels() + ax.get_yticklabels():
        lab.set_color("black")

# labels
fig.text(905 / W, 1 - 2082 / H, "T [K]", ha="center", va="center", fontsize=30, color="black")
fig.text(2173 / W, 1 - 2082 / H, "\u0398 [ML]", ha="center", va="center", fontsize=30, color="black")
fig.text(88 / W, 1 - 1006 / H, "Rate [10$^{\\mathrm{-3}}$ML/K]", rotation=90, ha="center", va="center",
         fontsize=30, color="black")
fig.text(375 / W, 1 - 272 / H, "a", ha="left", va="baseline", fontsize=48, fontweight="bold", color="black")
fig.text(1657 / W, 1 - 270 / H, "b", ha="left", va="baseline", fontsize=48, fontweight="bold", color="black")

ax_a.text(1243.0, 62.8, "\u03b1", ha="center", va="center", fontsize=38,
          family=["DejaVu Serif"], color="black")
ax_a.text(1159.5, 9.58, "\u03b2", ha="left", va="baseline", fontsize=34, color="#0000ff")
ax_a.text(1174.6, 6.77, "1", ha="left", va="baseline", fontsize=22, fontweight="bold", color="#0000ff")
ax_a.text(1381.0, 8.05, "\u03b2", ha="left", va="baseline", fontsize=34, color="#ff0000")
ax_a.text(1395.8, 5.19, "2", ha="left", va="baseline", fontsize=22, fontweight="bold", color="#ff0000")

fig.savefig("out.png", dpi=200, facecolor="white")
